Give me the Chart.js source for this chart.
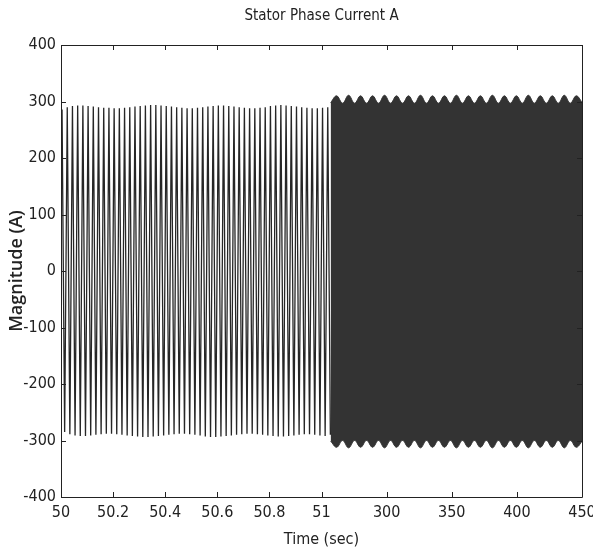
<!DOCTYPE html>
<html>
<head>
<meta charset="utf-8">
<script src="https://cdn.jsdelivr.net/npm/chart.js@4"></script>
<style>
html, body { margin: 0; padding: 0; background: #fff; }
#wrap { width: 593px; height: 553px; }
</style>
</head>
<body>
<div id="wrap"><canvas id="myChart" width="593" height="553"></canvas></div>
<script>
// axis break: 50..51 s on the left, 250..450 s on the right
var xTickPos = [0, 4, 8, 12, 16, 20, 25, 30, 35, 40]
var xTickLabels = ['50', '50.2', '50.4', '50.6', '50.8', '51', '300', '350', '400', '450']

// left part: peaks and troughs of each half cycle (50 Hz), from 50.004 s
var posPeaks = [286, 290, 292, 293, 293, 292, 291, 290, 289, 289, 288, 288, 289,
  290, 291, 292, 293, 294, 294, 293, 292, 291, 290, 289, 288, 288, 289, 290, 291,
  292, 293, 293, 292, 291, 290, 289, 288, 288, 289, 290, 292, 293, 294, 293, 292,
  291, 290, 289, 288, 288, 289, 290]
var negPeaks = [-285, -289, -291, -292, -292, -291, -290, -289, -288, -288, -289,
  -290, -291, -292, -293, -294, -294, -293, -292, -291, -290, -289, -288, -288,
  -289, -290, -291, -293, -294, -294, -293, -292, -291, -290, -289, -288, -288,
  -289, -290, -291, -292, -293, -293, -292, -291, -290, -289, -289, -290, -291,
  -292, -290]

// right part: envelope of the dense signal, every 4.6 s from 257 s
var denseUpper = [298, 310, 297, 311, 297, 310, 297, 310, 297, 311, 297, 310, 297,
  310, 297, 311, 297, 310, 297, 310, 297, 311, 297, 310, 297, 310, 297, 311, 297,
  310, 297, 310, 297, 311, 297, 310, 297, 310, 297, 311, 297, 310, 298]
var denseLower = [-301, -312, -300, -313, -300, -312, -300, -312, -300, -313, -300,
  -312, -300, -312, -300, -313, -300, -312, -300, -312, -300, -313, -300, -312,
  -300, -312, -300, -313, -300, -312, -300, -312, -300, -313, -300, -312, -300,
  -312, -300, -313, -300, -312, -301]

function toAxis(t) {
  if (t <= 52) return (t - 50) * 20
  return 20 + (t - 250) / 10
}

function drawChart() {
  var leftPts = []
  for (var i = 0; i < posPeaks.length; i++) {
    leftPts.push({ x: toAxis(50.004 + 0.02 * i), y: posPeaks[i] })
    leftPts.push({ x: toAxis(50.014 + 0.02 * i), y: negPeaks[i] })
  }
  var upPts = denseUpper.map(function (v, i) { return { x: toAxis(257 + 4.6 * i), y: v } })
  var lowPts = denseLower.map(function (v, i) { return { x: toAxis(257 + 4.6 * i), y: v } })

  var fnt = "'Liberation Sans Narrow', 'DejaVu Sans Condensed', sans-serif"

  var boxPlugin = {
    id: 'box',
    afterDatasetsDraw: function (chart) {
      var a = chart.chartArea, c = chart.ctx
      var xs = chart.scales.x, ys = chart.scales.y
      c.save()
      c.strokeStyle = '#222'
      c.lineWidth = 1
      c.beginPath()
      c.rect(Math.round(a.left) + 0.5, Math.round(a.top) + 0.5, Math.round(a.right - a.left), Math.round(a.bottom - a.top))
      xs.ticks.forEach(function (t) {
        var px = Math.round(xs.getPixelForValue(t.value)) + 0.5
        c.moveTo(px, a.bottom); c.lineTo(px, a.bottom - 5)
        c.moveTo(px, a.top); c.lineTo(px, a.top + 5)
      })
      ys.ticks.forEach(function (t) {
        var py = Math.round(ys.getPixelForValue(t.value)) + 0.5
        c.moveTo(a.left, py); c.lineTo(a.left + 5, py)
        c.moveTo(a.right, py); c.lineTo(a.right - 5, py)
      })
      c.stroke()
      c.restore()
    }
  }

  var ctx = document.getElementById('myChart').getContext('2d')
  new Chart(ctx, {
    type: 'line',
    data: {
      datasets: [{
        data: leftPts,
        borderColor: '#262626',
        borderWidth: 1.3,
        pointRadius: 0,
        fill: false
      }, {
        data: upPts,
        borderColor: '#333',
        backgroundColor: '#333',
        borderWidth: 1,
        pointRadius: 0,
        tension: 0.4,
        fill: '+1'
      }, {
        data: lowPts,
        borderColor: '#333',
        backgroundColor: '#333',
        borderWidth: 1,
        pointRadius: 0,
        tension: 0.4,
        fill: false
      }]
    },
    options: {
      responsive: false,
      animation: false,
      layout: { padding: { top: 0, right: 11, bottom: 0, left: 0 } },
      plugins: {
        legend: { display: false },
        tooltip: { enabled: false },
        title: {
          display: true,
          fullSize: false,
          text: 'Stator Phase Current A',
          color: '#222',
          font: { family: fnt, size: 15, weight: 'normal' },
          padding: { top: 7, bottom: 20 }
        }
      },
      scales: {
        x: {
          type: 'linear',
          min: 0,
          max: 40,
          afterBuildTicks: function (s) {
            s.ticks = xTickPos.map(function (v) { return { value: v } })
          },
          afterFit: function (s) {
            s.height = 56
            s.paddingLeft = 0
            s.paddingRight = 0
          },
          grid: { display: false, drawTicks: false },
          border: { display: false },
          ticks: {
            autoSkip: false,
            maxRotation: 0,
            padding: 6,
            color: '#222',
            font: { family: fnt, size: 16 },
            callback: function (v, i) { return xTickLabels[i] }
          },
          title: {
            display: true,
            text: 'Time (sec)',
            color: '#222',
            font: { family: fnt, size: 16 },
            padding: { top: 0, bottom: 4 }
          }
        },
        y: {
          min: -400,
          max: 400,
          afterFit: function (s) { s.width = 61 },
          grid: { display: false, drawTicks: false },
          border: { display: false },
          ticks: {
            stepSize: 100,
            padding: 5,
            color: '#222',
            font: { family: fnt, size: 16 }
          },
          title: {
            display: true,
            text: 'Magnitude (A)',
            color: '#222',
            font: { family: "'Open Sans', sans-serif", size: 18, weight: '600' },
            padding: { top: 6, bottom: 0 }
          }
        }
      }
    },
    plugins: [boxPlugin]
  })
}

document.addEventListener('DOMContentLoaded', drawChart)
</script>
</body>
</html>
